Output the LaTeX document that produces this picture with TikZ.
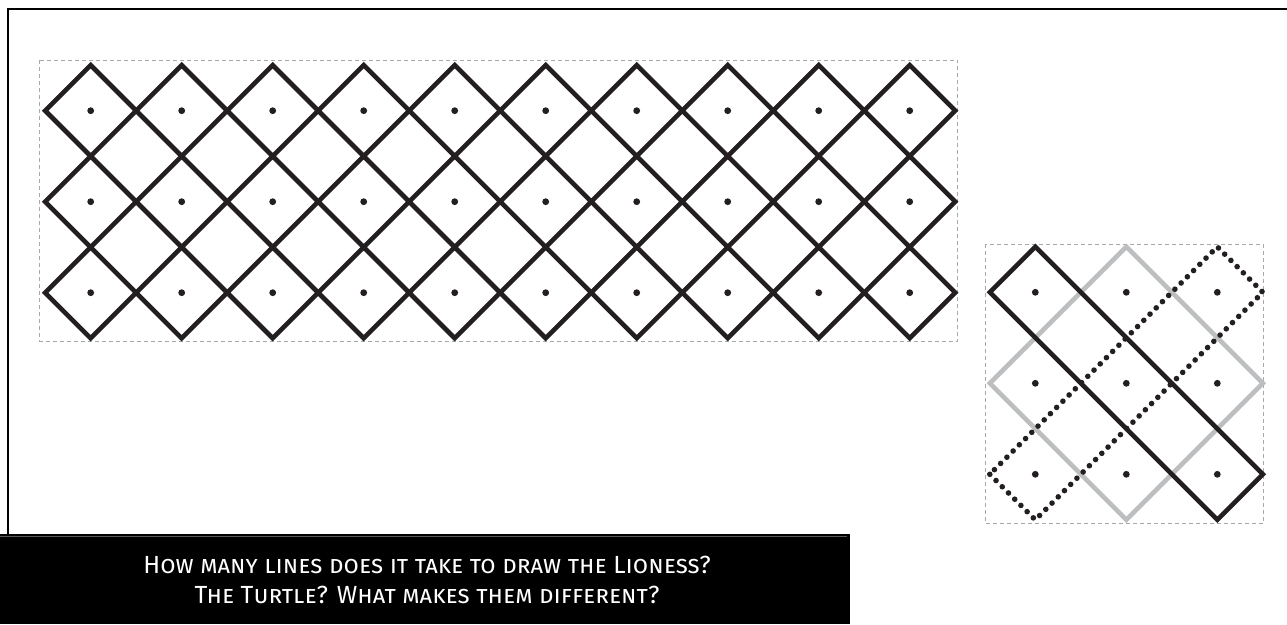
\documentclass[tikz,border=0pt]{standalone}
\usepackage{fontspec}
\setsansfont{Fira Sans}
\usepackage{xcolor}
\usepackage{tikz}
\usetikzlibrary{positioning, calc}
\definecolor{ink}{HTML}{231F20}
\definecolor{guidegray}{HTML}{A7A9AC}
\definecolor{ghostgray}{HTML}{BCBEC0}
\definecolor{rulegray}{HTML}{58595B}
\newcommand{\half}{45.5}

\begin{document}
\begin{tikzpicture}[
    x=1pt, y=-1pt,
    frameline/.style={draw=black, line width=2.8pt},
    guide/.style={draw=guidegray, line width=0.8pt,
                  dash pattern=on 4pt off 3pt},
    tile/.style={draw=ink, line width=4.6pt, line join=miter},
    ghost/.style={draw=ghostgray, line width=4.6pt, line join=miter},
    dotline/.style={draw=ink, line width=5.6pt, line cap=round,
                    dash pattern=on 0pt off 8.8pt},
    caption/.style={text=white, align=center,
                    font=\sffamily\scshape\fontsize{24.8}{30}\selectfont}
]
\useasboundingbox (0,0) rectangle (1287,624);

% Frame
\draw[frameline] (8,534) -- (8,9) -- (1287,9);

% Lioness
\draw[guide] (39.5,60) rectangle (957.5,341);
\foreach \i in {0,...,9}
  \foreach \j in {0,1,2}
    \draw[tile] ({90.7+91*\i-\half},{110.7+91*\j})
        -- ++(\half,-\half) -- ++(\half,\half) -- ++(-\half,\half) -- cycle;
\foreach \i in {0,...,9}
  \foreach \j in {0,1,2}
    \fill[ink] ({90.7+91*\i},{110.7+91*\j}) circle (3.4pt);

% Turtle
\draw[guide] (985,244) rectangle (1263.5,523);
\coordinate (tc) at (1126.3,383.3);
\draw[ghost] ($(tc)+(0,-3*\half)$) -- ++(3*\half,3*\half)
    -- ++(-3*\half,3*\half) -- ++(-3*\half,-3*\half) -- cycle;
\draw[dotline] ($(tc)+(-3*\half,2*\half)$) -- ++(\half,\half)
    -- ++(5*\half,-5*\half) -- ++(-\half,-\half) -- cycle;
\draw[tile] ($(tc)+(-3*\half,-2*\half)$) -- ++(\half,-\half)
    -- ++(5*\half,5*\half) -- ++(-\half,\half) -- cycle;
\foreach \i in {-1,0,1}
  \foreach \j in {-1,0,1}
    \fill[ink] ($(tc)+(91*\i,91*\j)$) circle (3.4pt);

% Question
\fill[black] (0,534) rectangle (850,624);
\draw[rulegray, line width=0.9pt] (0,536.5) -- (847,536.5);
\node[caption] (question) at (427,580)
    {How many lines does it take to draw the Lioness?\\
     The Turtle? What makes them different?};

\end{tikzpicture}
\end{document}
